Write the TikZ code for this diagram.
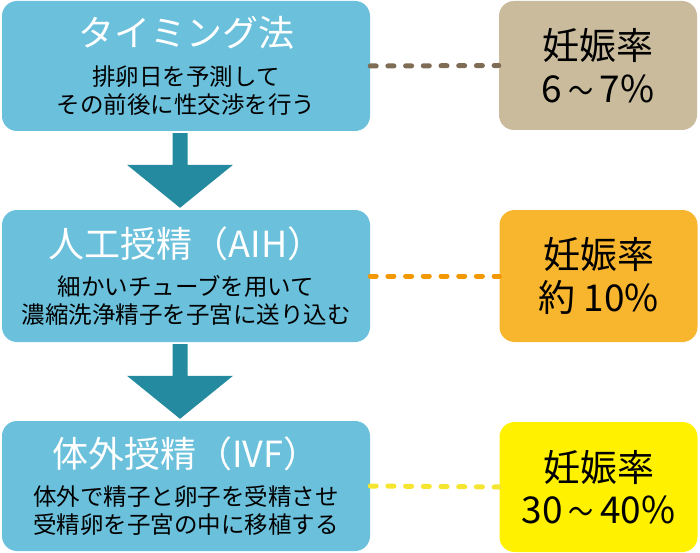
\documentclass[tikz,border=0pt]{standalone}
\usepackage{fontspec}
\setmainfont{Noto Sans CJK JP}
\usepackage{graphicx}
\usepackage{tikz}
\usetikzlibrary{calc, positioning}
\definecolor{methodBlue}{HTML}{6BC0DC}
\definecolor{arrowTeal}{HTML}{248A9F}
\definecolor{rateTan}{HTML}{C9BB9B}
\definecolor{dotBrown}{HTML}{7F6C55}
\definecolor{rateOrange}{HTML}{F8B52E}
\definecolor{dotOrange}{HTML}{F39800}
\definecolor{rateYellow}{HTML}{FFF100}
\definecolor{dotYellow}{HTML}{F5E52F}
\tikzset{
    methodBox/.style={
        rectangle,
        rounded corners=15pt,
        fill=methodBlue,
        inner sep=0pt,
        minimum width=368pt,
        align=center,
        font=\fontsize{23.5}{28}\selectfont
    },
    rateBox/.style={
        rectangle,
        rounded corners=15pt,
        inner sep=0pt,
        minimum width=198pt,
        align=center,
        font=\fontsize{37}{42.5}\selectfont
    },
    rateLink/.style={
        line width=5pt,
        line cap=round,
        dash pattern=on 6pt off 11.7pt
    }
}
\newcommand{\methodTitle}[1]{{\fontsize{36}{36}\selectfont\color{white}#1}\\[10.5pt]}
\newcommand{\rateTilde}{\scalebox{0.68}[0.85]{～}}
\newcommand{\flowArrow}[2]{%
    \fill[arrowTeal] ($(#1.south)+(-13.5,2)$) -- ($(#1.south)+(1.5,2)$)
        -- ($(#2.north)+(1.5,-45)$) -- ($(#2.north)+(47,-45)$)
        -- ($(#2.north)+(-6,-2)$) -- ($(#2.north)+(-59,-45)$)
        -- ($(#2.north)+(-13.5,-45)$) -- cycle;}

\begin{document}
\begin{tikzpicture}[x=1pt, y=-1pt]
    \useasboundingbox (0,0) rectangle (700,553);

    % Method boxes
    \node[methodBox, minimum height=130pt] (Timing) at (186,66)
        {\methodTitle{タイミング法}排卵日を予測して\\その前後に性交渉を行う};
    \node[methodBox, minimum height=132pt] (AIH) at (186,276)
        {\methodTitle{人工授精（AIH）}細かいチューブを用いて\\濃縮洗浄精子を子宮に送り込む};
    \node[methodBox, minimum height=130pt] (IVF) at (186,486)
        {\methodTitle{体外授精（IVF）}体外で精子と卵子を受精させ\\受精卵を子宮の中に移植する};

    % Pregnancy rate boxes
    \node[rateBox, fill=rateTan, minimum height=129pt] (RateTiming) at (598,65.5)
        {妊娠率\\6\,\rateTilde\,7\%};
    \node[rateBox, fill=rateOrange, minimum height=132pt] (RateAIH) at (598.5,276)
        {妊娠率\\約 10\%};
    \node[rateBox, fill=rateYellow, minimum height=130pt] (RateIVF) at (598.5,487)
        {妊娠率\\30\,\rateTilde\,40\%};

    % Flow arrows
    \flowArrow{Timing}{AIH}
    \flowArrow{AIH}{IVF}

    % Dotted links
    \draw[rateLink, dotBrown] (Timing.east) -- (RateTiming.west);
    \draw[rateLink, dotOrange] (AIH.east) -- (RateAIH.west);
    \draw[rateLink, dotYellow] (IVF.east) -- (RateIVF.west);
\end{tikzpicture}
\end{document}
